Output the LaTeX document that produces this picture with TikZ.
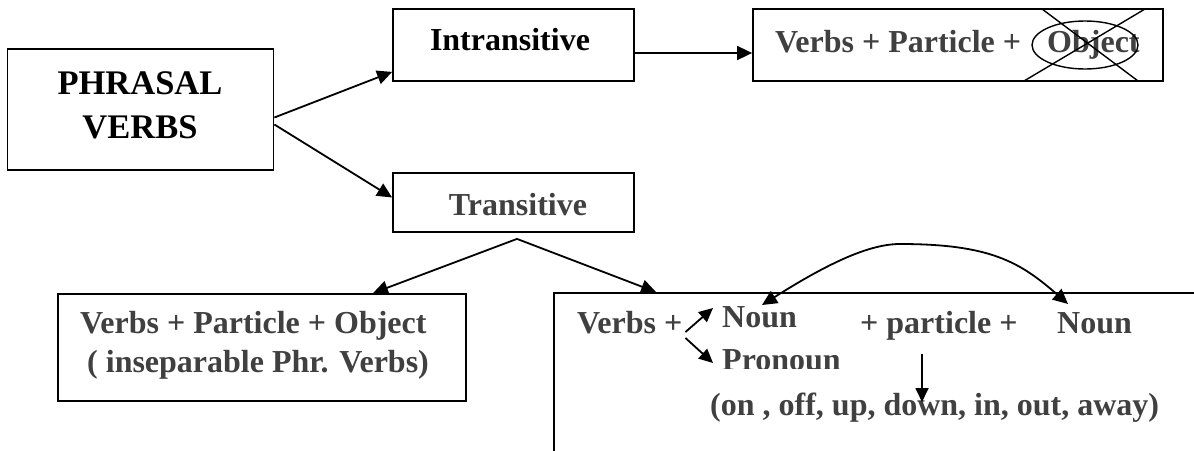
\documentclass[tikz,border=0pt]{standalone}
\usepackage{fontspec}
\setmainfont{Liberation Serif}
\usetikzlibrary{arrows.meta}
\definecolor{txtgray}{HTML}{404040}
\tikzset{
  box/.style={draw=black, line width=1.8pt, rectangle, inner sep=0pt},
  lbl/.style={inner sep=0pt, anchor=base west, text=txtgray, font=\fontsize{32}{38}\selectfont\bfseries},
  blbl/.style={lbl, text=black},
  big/.style={inner sep=0pt, anchor=base, text=black, font=\fontsize{34.5}{42}\selectfont\bfseries},
  conn/.style={line width=1.8pt, -{Triangle[length=15pt,width=14pt]}},
  sconn/.style={line width=1.8pt, -{Triangle[length=14pt,width=13pt]}},
  thin/.style={line width=1.4pt}
}
\begin{document}
\begin{tikzpicture}[x=1pt, y=-1pt]
\clip (0,0) rectangle (1194,450);
\fill[white] (0,0) rectangle (1194,450);
% boxes
\node[box, minimum width=266pt, minimum height=121pt] (pv) at (140.5,109.5) {};
\node[big] (pv1) at (140,94) {PHRASAL};
\node[big] (pv2) at (140,138) {VERBS};
\node[box, minimum width=241pt, minimum height=72pt] (intr) at (513.5,45) {};
\node[blbl, anchor=base] (intrt) at (510,50) {Intransitive};
\node[box, minimum width=410pt, minimum height=72pt] (vtop) at (958,45) {};
\node[lbl] (vtopt) at (775,52) {Verbs + Particle +};
\node[lbl] (obj) at (1047,52) {Object};
\node[box, minimum width=241pt, minimum height=59pt] (trans) at (513.5,202.5) {};
\node[lbl, anchor=base] (transt) at (518,215) {Transitive};
\node[box, minimum width=408pt, minimum height=107pt] (lb) at (262,347.5) {};
\node[lbl] (lb1) at (80,333) {Verbs + Particle + Object};
\node[lbl] (lb2) at (87,372) {( inseparable Phr. Verbs)};
\node[box, minimum width=700pt, minimum height=250pt] (rb) at (904,418) {};
% right box texts
\node[lbl] (rv) at (577,333) {Verbs +};
\node[lbl] (n1) at (722,327) {Noun};
\begin{scope}
\clip (700,335) rectangle (870,368);
\node[lbl] (pn) at (722,370) {Pronoun};
\end{scope}
\node[lbl] (pt) at (860,333) {+ particle +};
\node[lbl] (n2) at (1057,333) {Noun};
\node[lbl] (lst) at (710,415) {(on , off, up, down, in, out, away)};
% crossed-out object
\draw[thin] (1085,45) ellipse [x radius=53pt, y radius=24pt];
\draw[thin] (1042,9) -- (1138,81);
\draw[thin] (1145,9) -- (1024,81);
% connectors
\draw[conn] ([yshift=-8pt]pv.east) -- ([yshift=10pt]intr.south west);
\draw[conn] ([yshift=-15pt]pv.east) -- ([yshift=5pt]trans.west);
\draw[conn] ([yshift=-8pt]intr.east) -- ([yshift=-8pt]vtop.west);
\draw[conn] ([shift={(3.5pt,-6pt)}]trans.south) -- ([xshift=111pt]lb.north);
\draw[conn] ([shift={(3.5pt,-6pt)}]trans.south) -- ([xshift=103pt]rb.north west);
\draw[sconn] ([shift={(3pt,1pt)}]rv.base east) -- ([shift={(-9pt,19pt)}]n1.base west);
\draw[sconn] ([shift={(3pt,-5pt)}]rv.base east) -- ([shift={(-9pt,7pt)}]pn.base west);
\draw[sconn] ([shift={(62pt,-21pt)}]pt.base west) -- ([shift={(212pt,13pt)}]lst.base west);
\draw[line width=1.8pt, {Triangle[length=15pt,width=14pt]}-{Triangle[length=15pt,width=14pt]}]
  ([shift={(11pt,29pt)}]n2.base west) .. controls (1020,262) and (990,244) .. (900,244)
  .. controls (870,244) and (830,262) .. ([shift={(40pt,22pt)}]n1.base west);
\end{tikzpicture}
\end{document}
